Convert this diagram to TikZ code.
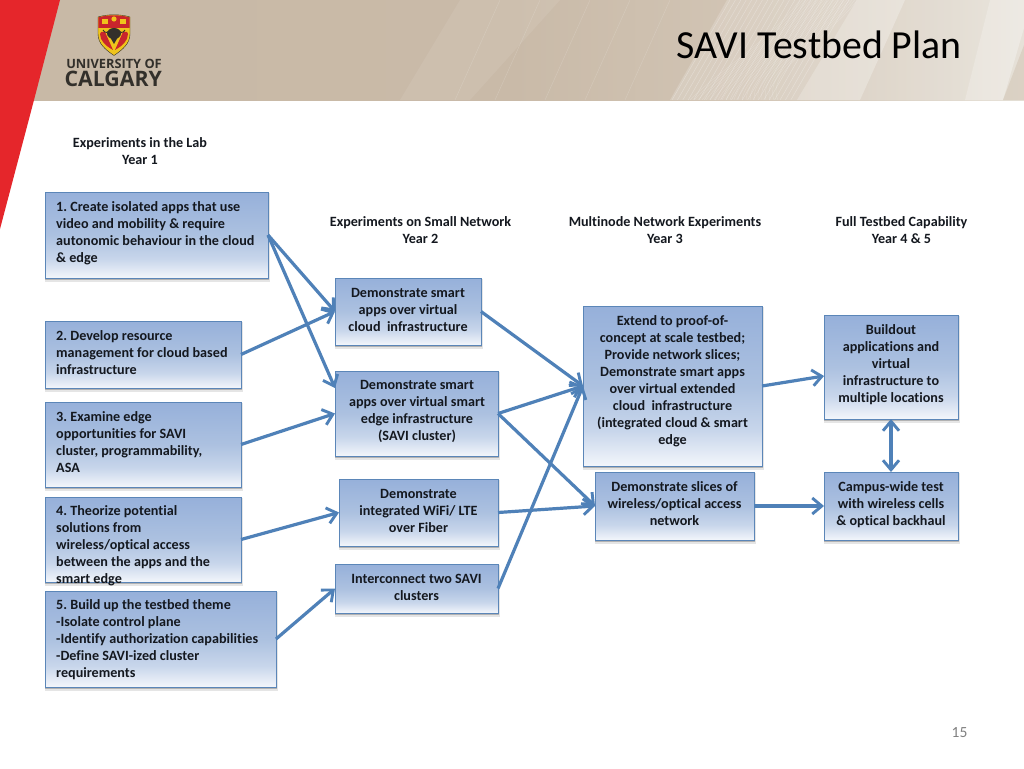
\documentclass[tikz,border=0pt]{standalone}
\usepackage{fontspec}
\setmainfont[Ligatures=NoCommon]{Carlito}
\newfontfamily\logofont{Open Sans}
\usetikzlibrary{arrows.meta,calc}
\definecolor{bxline}{HTML}{5B86B8}
\definecolor{arrowc}{HTML}{4F81B8}
\definecolor{txt}{HTML}{14181F}
\definecolor{bxbot}{HTML}{F3F6FB}
\definecolor{bxa}{HTML}{C8D6EB}
\definecolor{bxb}{HTML}{ACC1E0}
\definecolor{bxtop}{HTML}{96B0DA}
\definecolor{hA}{HTML}{C8B9A6}
\definecolor{hB}{HTML}{C9BAA8}
\definecolor{hC}{HTML}{D2C5B5}
\definecolor{hD}{HTML}{E6E1D8}
\definecolor{ured}{HTML}{E5262B}
\definecolor{shred}{HTML}{C9252C}
\definecolor{shyel}{HTML}{EFC41C}
\definecolor{logok}{HTML}{33302B}
\pgfdeclareverticalshading{bxgrad}{100bp}{color(0bp)=(bxbot);color(25bp)=(bxbot);color(36bp)=(bxa);color(50bp)=(bxb);color(75bp)=(bxtop);color(100bp)=(bxtop)}
\pgfdeclarehorizontalshading{hdrgrad}{100bp}{color(0bp)=(hA);color(25bp)=(hA);color(50bp)=(hB);color(62bp)=(hC);color(75bp)=(hD);color(100bp)=(hD)}
\tikzset{
  bxshape/.style={draw=bxline,line width=0.9pt,shading=bxgrad,inner sep=0pt,outer sep=0pt},
  txbase/.style={font=\fontsize{14.15}{17}\selectfont\bfseries\frenchspacing,text=txt,inner sep=0pt},
  txl/.style={txbase,anchor=west,align=left},
  txc/.style={txbase,anchor=center,align=center},
  tipb/.tip={Straight Barb[length=9.5pt,width=16pt,line width=2.9pt]},
  conn/.style={draw=arrowc,line width=3.2pt,-tipb},
  connb/.style={draw=arrowc,line width=3.2pt,tipb-tipb}
}
\newcommand{\bxn}[9]{%
  \pgfmathsetmacro{\bw}{#4-#2}\pgfmathsetmacro{\bh}{#5-#3}%
  \fill[black,opacity=.10] (#2-0.5,#3+1) rectangle (#4+1.5,#5+3.5);%
  \fill[black,opacity=.22] (#2,#3+1) rectangle (#4+1,#5+2);%
  \node[bxshape,anchor=north west,minimum width=\bw pt,minimum height=\bh pt] (#1) at (#2,#3) {};%
  \node[#6] (#1-t) at (#7,#8+0.8) {#9};%
}
\begin{document}
\begin{tikzpicture}[x=1pt,y=-1pt]
\useasboundingbox (0,0) rectangle (1024,768);
\fill[white] (0,0) rectangle (1024,768);
% header band
\shade[shading=hdrgrad] (0,0) rectangle (1024,100);
\fill[white,opacity=.08] (460,0) -- (560,0) -- (470,100) -- (400,100) -- cycle;
\fill[white,opacity=.18] (727,0) -- (857,0) -- (797,100) -- (670,100) -- cycle;
\foreach \i in {0,...,22}{
  \draw[white,opacity=.28,line width=.5pt] ({730+\i*5.4},0) -- ({672+\i*5.4},100);
  \draw[white,opacity=.18,line width=.5pt] ({800+\i*2.6},0) .. controls ({770+\i*2.6},40) and ({720+\i*2},70) .. ({690+\i*4},100);
}
\foreach \x in {500,540,590,630,670}{\draw[white,opacity=.16,line width=.5pt] (\x,0) -- ({\x-45},100);}
\fill[white,opacity=.35] (857,0) -- (905,0) -- (860,100) -- (797,100) -- cycle;
\fill[white,opacity=.12] (905,0) -- (990,0) -- (965,100) -- (860,100) -- cycle;
\fill[white,opacity=.30] (990,0) -- (1024,0) -- (1024,28) -- (1003,100) -- (965,100) -- cycle;
\fill[hC,opacity=.55] (1024,45) -- (1024,100) -- (1003,100) -- cycle;
% red stripe
\fill[ured] (0,0) -- (60,0) -- (34,100) -- (0,229) -- cycle;
% logo
\path[fill=shyel,draw=logok,line width=.4pt] (98,17) .. controls (108,14) and (120,14) .. (130,17) -- (130,34) .. controls (130,44) and (122,50) .. (114,55.5) .. controls (106,50) and (98,44) .. (98,34) -- cycle;
\path[fill=shred] (98.4,17.4) .. controls (108,14.6) and (120,14.6) .. (129.6,17.4) -- (129.6,28) -- (98.4,28) -- cycle;
\fill[shyel] (102,19.5) rectangle (108,24);
\fill[shyel] (120,19.5) rectangle (126,24);
\fill[shyel] (114,19) circle (2.6);
\fill[shred] (101,32) -- (105,32) -- (113,50) .. controls (106,46) and (100,41) .. (100,34) -- cycle;
\fill[shred] (127,32) -- (123,32) -- (115,50) .. controls (122,46) and (128,41) .. (128,34) -- cycle;
\fill[logok] (114,33.5) ellipse (7 and 5.5);
\fill[logok] (110,37) -- (118,37) -- (114,44) -- cycle;
\draw[logok,line width=.9pt] (103,30) .. controls (105,34) and (108,32) .. (110,31);
\draw[logok,line width=.9pt] (125,30) .. controls (123,34) and (120,32) .. (118,31);
\node[font=\logofont\fontsize{12.8}{13}\selectfont\bfseries,text=logok,inner sep=0pt] (logo1) at (114,64) {UNIVERSITY OF};
\node[font=\logofont\fontsize{21.3}{22}\selectfont\bfseries,text=logok,inner sep=0pt] (logo2) at (113.2,79) {CALGARY};
% title and page number
\node[font=\fontsize{39.8}{42}\selectfont,text=black,inner sep=0pt] (title) at (819,45) {SAVI Testbed Plan};
\node[font=\fontsize{15.5}{16}\selectfont,text=black!50,inner sep=0pt] (page) at (959.5,733) {15};
% column headings
\node[txc] (h1) at (140,151) {Experiments in the Lab\\Year 1};
\node[txc] (h2) at (420.5,230) {Experiments on Small Network\\Year 2};
\node[txc] (h3) at (665,230) {Multinode Network Experiments\\Year 3};
\node[txc] (h4) at (901.5,230) {Full Testbed Capability\\Year 4 \& 5};
% boxes
\bxn{n1}{45}{192}{268}{278}{txl}{56}{232.3}{1. Create isolated apps that use\\video and mobility \& require\\autonomic behaviour in the cloud\\\& edge}
\bxn{n2}{45}{321}{241}{388}{txl}{56}{352}{2. Develop resource\\management for cloud based\\infrastructure}
\bxn{n3}{45}{402}{241}{487}{txl}{56}{441}{3. Examine edge\\opportunities for SAVI\\cluster, programmability,\\ASA}
\bxn{n4}{45}{497}{241}{582}{txl}{56}{544.5}{4. Theorize potential\\solutions from\\wireless/optical access\\between the apps and the\\smart edge}
\bxn{n5}{45}{591}{276}{687}{txl}{56}{638.5}{5. Build up the testbed theme\\-Isolate control plane\\-Identify authorization capabilities\\-Define SAVI-ized cluster\\requirements}
\bxn{d1}{335}{278}{481}{345}{txc}{408}{309}{Demonstrate smart\\apps over virtual\\cloud\ \ infrastructure}
\bxn{d2}{335}{371}{498}{456}{txc}{417}{410.8}{Demonstrate smart\\apps over virtual smart\\edge infrastructure\\(SAVI cluster)}
\bxn{d3}{339}{479}{498}{546}{txc}{418.5}{510}{Demonstrate\\integrated WiFi/ LTE\\over Fiber}
\bxn{d4}{335}{564}{498}{613}{txc}{416.5}{587}{Interconnect two SAVI\\clusters}
\bxn{e1}{583}{306}{762}{466}{txc}{672.5}{380}{Extend to proof-of-\\concept at scale testbed;\\Provide network slices;\\Demonstrate smart apps\\over virtual extended\\cloud\ \ infrastructure\\(integrated cloud \& smart\\edge}
\bxn{e2}{595}{472}{754}{540}{txc}{674.5}{503}{Demonstrate slices of\\wireless/optical access\\network}
\bxn{f1}{824}{315}{958}{419}{txc}{891}{363.8}{Buildout\\applications and\\virtual\\infrastructure to\\multiple locations}
\bxn{f2}{824}{472}{958}{540}{txc}{891}{503.8}{Campus-wide test\\with wireless cells\\\& optical backhaul}
% free connector ends
\coordinate (d2in) at (335,388);
\coordinate (f1in) at (824,376);
% connectors
\draw[conn] (n1.east) -- (d1.west);
\draw[conn] (n1.east) -- (d2in);
\draw[conn] (n2.east) -- (d1.west);
\draw[conn] (n3.east) -- (d2.west);
\draw[conn] (n4.east) -- (d3.west);
\draw[conn] (n5.east) -- (d4.west);
\draw[conn] (d1.east) -- (e1.west);
\draw[conn] (d2.east) -- (e1.west);
\draw[conn] (d2.east) -- (e2.west);
\draw[conn] (d3.east) -- (e2.west);
\draw[conn] (d4.east) -- (e1.west);
\draw[conn] (e1.east) -- (f1in);
\draw[conn] (e2.east) -- (f2.west);
\draw[connb] (f1.south) -- (f2.north);
\end{tikzpicture}
\end{document}
